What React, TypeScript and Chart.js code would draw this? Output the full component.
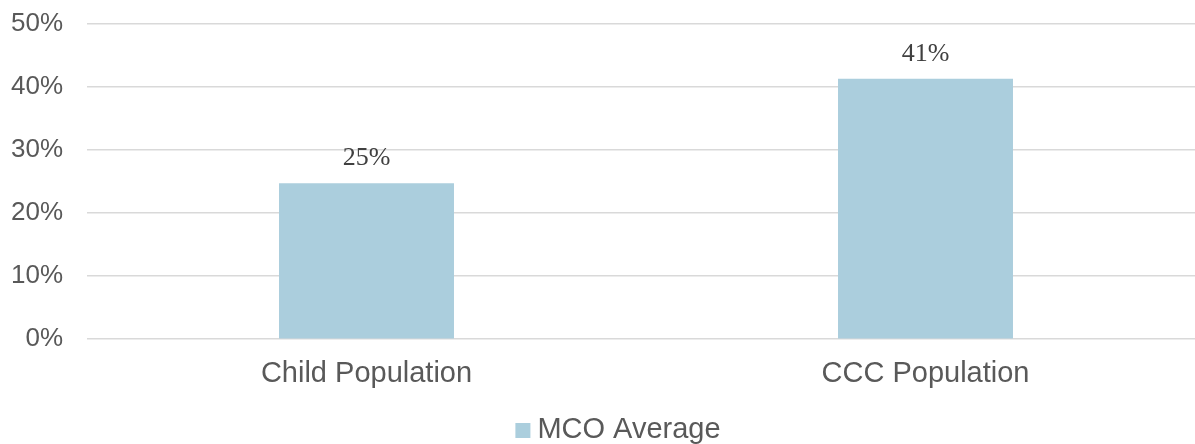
import React, { useEffect, useRef } from "react";
import { Chart, registerables } from "chart.js";

Chart.register(...registerables);

const categories = ["Child Population", "CCC Population"];
const mcoAverage = [24.75, 41.3];
const seriesLabel = "MCO Average";
const yTicks = [0, 10, 20, 30, 40, 50];

const SANS = "'Liberation Sans', Arial, sans-serif";
const SERIF = "'Liberation Serif', 'Times New Roman', serif";

const CANVAS_W = 1256;
const CANVAS_H = 444;
const BAR_COLOR = "#abcedd";
const TEXT_COLOR = "#595959";

// Value labels above each bar, rounded to whole percents
const valueLabels = {
  id: "valueLabels",
  afterDatasetsDraw(chart: any) {
    const ctx = chart.ctx;
    const meta = chart.getDatasetMeta(0);
    const data = chart.data.datasets[0].data as number[];
    ctx.save();
    ctx.font = `26px ${SERIF}`;
    ctx.fillStyle = "#404040";
    ctx.textAlign = "center";
    ctx.textBaseline = "alphabetic";
    meta.data.forEach((bar: any, i: number) => {
      ctx.fillText(`${Math.round(data[i])}%`, bar.x, bar.y - 18);
    });
    ctx.restore();
  },
};

// Compact legend row under the axis labels: small swatch with a tight gap
const bottomLegend = {
  id: "bottomLegend",
  afterDraw(chart: any) {
    const ctx = chart.ctx;
    const ds = chart.data.datasets[0];
    const swatch = 15;
    const gap = 7;
    ctx.save();
    ctx.font = `29px ${SANS}`;
    const textW = ctx.measureText(ds.label).width;
    const total = swatch + gap + textW;
    const left = 618 - total / 2;
    const baseline = 438;
    ctx.fillStyle = ds.backgroundColor;
    ctx.fillRect(left, baseline - 15, swatch, swatch);
    ctx.fillStyle = TEXT_COLOR;
    ctx.textAlign = "left";
    ctx.textBaseline = "alphabetic";
    ctx.fillText(ds.label, left + swatch + gap, baseline);
    ctx.restore();
  },
};

export default function App() {
  const ref = useRef<HTMLCanvasElement | null>(null);

  useEffect(() => {
    document.body.style.overflow = "hidden";
    const chart = new Chart(ref.current!, {
      type: "bar",
      data: {
        labels: categories,
        datasets: [
          {
            label: seriesLabel,
            data: mcoAverage,
            backgroundColor: BAR_COLOR,
            borderWidth: 0,
            barPercentage: 0.313,
            categoryPercentage: 1,
          },
        ],
      },
      options: {
        animation: false,
        responsive: false,
        maintainAspectRatio: false,
        layout: { padding: { top: 24, left: 10, right: 51, bottom: 44 } },
        plugins: {
          tooltip: { enabled: false },
          legend: { display: false },
        },
        scales: {
          x: {
            grid: { display: false },
            border: { display: false },
            ticks: {
              color: TEXT_COLOR,
              font: { family: SANS, size: 29 },
              padding: 9,
              maxRotation: 0,
            },
          },
          y: {
            min: 0,
            max: 50,
            afterBuildTicks: (axis: any) => {
              axis.ticks = yTicks.map((v) => ({ value: v }));
            },
            afterFit: (axis: any) => {
              axis.width = 77;
              axis.paddingTop = 0;
              axis.paddingBottom = 0;
            },
            grid: { color: "#d9d9d9", lineWidth: 1.5, drawTicks: false },
            border: { display: false },
            ticks: {
              color: TEXT_COLOR,
              font: { family: SANS, size: 26 },
              padding: 24,
              callback: (v: any) => `${v}%`,
            },
          },
        },
      },
      plugins: [valueLabels, bottomLegend],
    });
    return () => chart.destroy();
  }, []);

  return (
    <div style={{ position: "fixed", left: 0, top: 0, width: CANVAS_W, height: CANVAS_H, background: "#fff" }}>
      <canvas ref={ref} width={CANVAS_W} height={CANVAS_H} />
    </div>
  );
}
